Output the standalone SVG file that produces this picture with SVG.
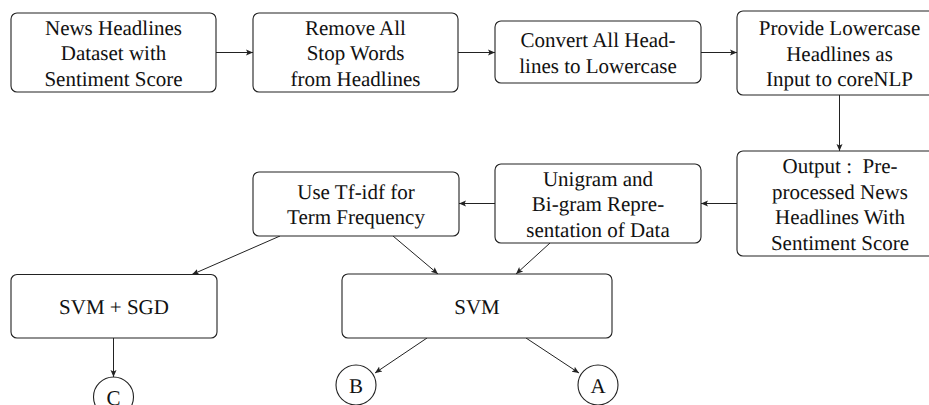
<svg xmlns="http://www.w3.org/2000/svg" width="929" height="405" viewBox="0 0 929 405">
<style>
.box{fill:#fff;stroke:#222;stroke-width:1.1}
.t{font-family:"Liberation Serif","Times New Roman",serif;font-size:21px;fill:#111;text-anchor:middle;text-rendering:geometricPrecision}
.c{fill:none;stroke:#222;stroke-width:1;marker-end:url(#ah)}
</style>
<defs>
<marker id="ah" markerUnits="userSpaceOnUse" markerWidth="8" markerHeight="8" viewBox="0 0 8 8" refX="7" refY="4" orient="auto">
<path d="M0,1 L7,4 L0,7 L1.5,4 Z" fill="#222"/>
</marker>
</defs>
<rect width="929" height="405" fill="#fff"/>
<g id="connectors">
<line class="c" x1="216" y1="52.5" x2="253" y2="52.5"/>
<line class="c" x1="458" y1="52.5" x2="495" y2="52.5"/>
<line class="c" x1="701" y1="52.5" x2="737" y2="52.5"/>
<line class="c" x1="839.5" y1="95" x2="839.5" y2="151"/>
<line class="c" x1="737" y1="203.5" x2="701" y2="203.5"/>
<line class="c" x1="495" y1="203.5" x2="459" y2="203.5"/>
<line class="c" x1="280" y1="236" x2="192" y2="274.5"/>
<line class="c" x1="393" y1="236" x2="438" y2="274"/>
<line class="c" x1="550" y1="243" x2="516" y2="274"/>
<line class="c" x1="427" y1="338" x2="375" y2="373"/>
<line class="c" x1="526" y1="338" x2="579" y2="373"/>
<line class="c" x1="113.5" y1="338" x2="113.5" y2="377"/>
</g>
<g id="n1">
<rect class="box" x="11" y="13" width="205" height="79" rx="6"/>
<text class="t" x="113.5" y="34.5">News Headlines</text>
<text class="t" x="113.5" y="60">Dataset with</text>
<text class="t" x="113.5" y="85.5">Sentiment Score</text>
</g>
<g id="n2">
<rect class="box" x="253" y="13" width="205" height="79" rx="6"/>
<text class="t" x="355.5" y="34.5">Remove All</text>
<text class="t" x="355.5" y="60">Stop Words</text>
<text class="t" x="355.5" y="85.5">from Headlines</text>
</g>
<g id="n3">
<rect class="box" x="495" y="21" width="206" height="62" rx="6"/>
<text class="t" x="598" y="47">Convert All Head-</text>
<text class="t" x="598" y="72.5">lines to Lowercase</text>
</g>
<g id="n4">
<rect class="box" x="737" y="11" width="205" height="84" rx="6"/>
<text class="t" x="839.5" y="35">Provide Lowercase</text>
<text class="t" x="839.5" y="60.5">Headlines as</text>
<text class="t" x="839.5" y="86">Input to coreNLP</text>
</g>
<g id="n5">
<rect class="box" x="737" y="151" width="205" height="105" rx="6"/>
<text class="t" x="840" y="173" xml:space="preserve">Output :  Pre-</text>
<text class="t" x="840" y="198.5">processed News</text>
<text class="t" x="840" y="224">Headlines With</text>
<text class="t" x="840" y="249.5">Sentiment Score</text>
</g>
<g id="n6">
<rect class="box" x="495" y="164" width="206" height="79" rx="6"/>
<text class="t" x="598" y="185.5">Unigram and</text>
<text class="t" x="598" y="211">Bi-gram Repre-</text>
<text class="t" x="598" y="236.5">sentation of Data</text>
</g>
<g id="n7">
<rect class="box" x="253" y="172" width="206" height="64" rx="6"/>
<text class="t" x="356" y="198.5">Use Tf-idf for</text>
<text class="t" x="356" y="224">Term Frequency</text>
</g>
<g id="n8">
<rect class="box" x="11" y="274.5" width="206" height="63.5" rx="6"/>
<text class="t" x="114" y="313.5">SVM + SGD</text>
</g>
<g id="n9">
<rect class="box" x="342" y="274" width="270" height="64" rx="6"/>
<text class="t" x="477" y="313.5">SVM</text>
</g>
<g id="nB">
<circle class="box" cx="356" cy="385" r="20"/>
<text class="t" x="356" y="392.5">B</text>
</g>
<g id="nA">
<circle class="box" cx="598" cy="385" r="20"/>
<text class="t" x="598" y="392.5">A</text>
</g>
<g id="nC">
<circle class="box" cx="113.5" cy="397" r="20"/>
<text class="t" x="113.5" y="404.5">C</text>
</g>
</svg>
